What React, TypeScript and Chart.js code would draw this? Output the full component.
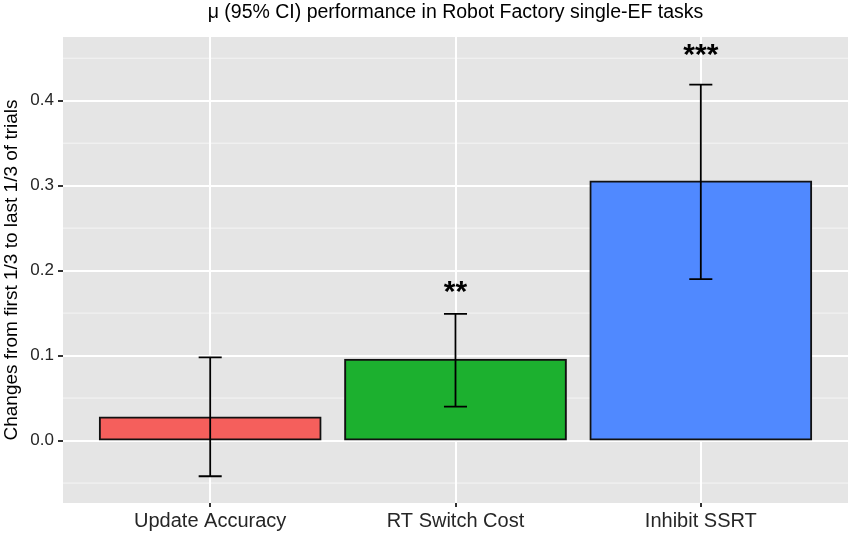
import React, { useEffect, useRef } from 'react';
import { Chart, registerables } from 'chart.js';

Chart.register(...registerables);

// values
const categories = ['Update Accuracy', 'RT Switch Cost', 'Inhibit SSRT'];
const means = [0.027, 0.095, 0.305];
const ciLow = [-0.042, 0.04, 0.19];
const ciHigh = [0.098, 0.149, 0.419];
const stars = ['', '**', '***'];
const starY = [0, 0.181, 0.46];
const yTicks = [0, 0.1, 0.2, 0.3, 0.4];
const yMinor = [-0.05, 0.05, 0.15, 0.25, 0.35, 0.45];
const barColors = ['#f55f5c', '#1cb02f', '#5089ff'];

const FONT = "'Liberation Sans', Arial, sans-serif";

// grey panel + minor grid, drawn under the major grid
const panelPlugin = {
  id: 'panel',
  beforeDraw(chart: any) {
    const { ctx, chartArea: a, scales } = chart;
    ctx.save();
    ctx.fillStyle = '#e5e5e5';
    ctx.fillRect(a.left, a.top, a.right - a.left, a.bottom - a.top);
    ctx.strokeStyle = '#f5f5f5';
    ctx.lineWidth = 1;
    yMinor.forEach((v) => {
      const y = scales.y.getPixelForValue(v);
      ctx.beginPath();
      ctx.moveTo(a.left, y);
      ctx.lineTo(a.right, y);
      ctx.stroke();
    });
    ctx.restore();
  },
};

// error bars and significance stars
const errorPlugin = {
  id: 'errors',
  afterDatasetsDraw(chart: any) {
    const { ctx, scales } = chart;
    const { x, y } = scales;
    const half = 0.047;
    ctx.save();
    ctx.strokeStyle = '#000';
    ctx.lineWidth = 1.8;
    categories.forEach((_, i) => {
      const cx = x.getPixelForValue(i + 1);
      const lo = y.getPixelForValue(ciLow[i]);
      const hi = y.getPixelForValue(ciHigh[i]);
      const l = x.getPixelForValue(i + 1 - half);
      const r = x.getPixelForValue(i + 1 + half);
      ctx.beginPath();
      ctx.moveTo(cx, lo);
      ctx.lineTo(cx, hi);
      ctx.moveTo(l, lo);
      ctx.lineTo(r, lo);
      ctx.moveTo(l, hi);
      ctx.lineTo(r, hi);
      ctx.stroke();
      if (stars[i]) {
        ctx.fillStyle = '#000';
        ctx.font = `bold 30px ${FONT}`;
        ctx.textAlign = 'center';
        ctx.textBaseline = 'middle';
        ctx.fillText(stars[i], cx, y.getPixelForValue(starY[i]) + 6);
      }
    });
    ctx.restore();
  },
};

export default function App() {
  const canvasRef = useRef<HTMLCanvasElement | null>(null);
  const chartRef = useRef<Chart | null>(null);

  useEffect(() => {
    if (!canvasRef.current) return;
    chartRef.current = new Chart(canvasRef.current, {
      type: 'bar',
      data: {
        datasets: [
          {
            data: means.map((m, i) => ({ x: i + 1, y: m })),
            backgroundColor: barColors,
            borderColor: '#111',
            borderWidth: 2,
            borderSkipped: false,
            inflateAmount: 1,
            barPercentage: 0.9,
            categoryPercentage: 1,
          },
        ],
      },
      options: {
        animation: false,
        responsive: true,
        maintainAspectRatio: false,
        layout: { padding: { left: 0, right: 2, top: 0, bottom: 0 } },
        plugins: {
          legend: { display: false },
          tooltip: { enabled: false },
          title: {
            display: true,
            fullSize: false,
            text: 'μ (95% CI) performance in Robot Factory single-EF tasks',
            color: '#000',
            font: { family: FONT, size: 19.5, weight: 'normal' },
            padding: { top: 1, bottom: 12.6 },
          },
        },
        scales: {
          x: {
            type: 'linear',
            offset: false,
            min: 0.4,
            max: 3.6,
            afterBuildTicks: (s: any) => {
              s.ticks = categories.map((_, i) => ({ value: i + 1 }));
            },
            afterFit: (s: any) => {
              s.height = 31;
            },
            ticks: {
              callback: (v: any) => categories[Math.round(v) - 1] ?? '',
              color: '#262626',
              font: { family: FONT, size: 20 },
              padding: 2,
              maxRotation: 0,
              autoSkip: false,
            },
            grid: { offset: false, color: '#ffffff', lineWidth: 2, tickColor: '#333', tickLength: 4 },
            border: { display: false },
          },
          y: {
            type: 'linear',
            min: -0.0735,
            max: 0.475,
            afterBuildTicks: (s: any) => {
              s.ticks = yTicks.map((v) => ({ value: v }));
            },
            afterFit: (s: any) => {
              s.width = 63;
            },
            ticks: {
              callback: (v: any) => Number(v).toFixed(1),
              color: '#262626',
              font: { family: FONT, size: 17 },
              padding: 4,
            },
            grid: { color: '#ffffff', lineWidth: 2, tickColor: '#333', tickLength: 5 },
            border: { display: false },
            title: {
              display: true,
              text: 'Changes from first 1/3 to last 1/3 of trials',
              color: '#000',
              font: { family: FONT, size: 19 },
              padding: { top: 0, bottom: 0 },
            },
          },
        },
      },
      plugins: [panelPlugin, errorPlugin],
    } as any);
    return () => {
      chartRef.current?.destroy();
      chartRef.current = null;
    };
  }, []);

  return (
    <div style={{ position: 'absolute', left: 0, top: 0, width: 850, height: 534, background: '#fff' }}>
      <canvas ref={canvasRef} />
    </div>
  );
}
